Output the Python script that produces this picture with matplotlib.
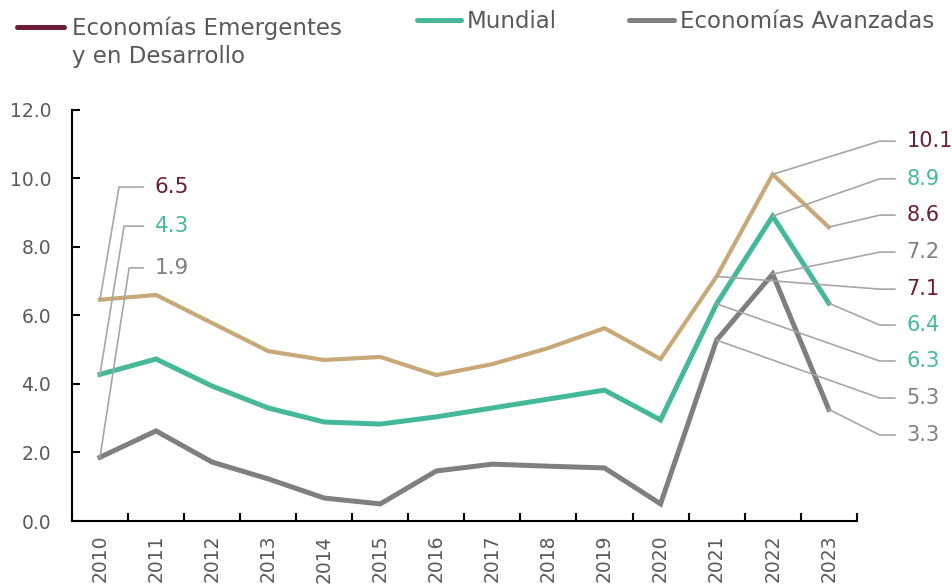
import numpy as np
import matplotlib.pyplot as plt
from matplotlib.lines import Line2D

plt.rcParams['font.family'] = ['DejaVu Sans']

years = ['2010', '2011', '2012', '2013', '2014', '2015', '2016',
         '2017', '2018', '2019', '2020', '2021', '2022', '2023']

emergentes = [6.46, 6.60, 5.78, 4.96, 4.70, 4.79, 4.26,
              4.58, 5.05, 5.63, 4.73, 7.14, 10.12, 8.58]
mundial = [4.28, 4.73, 3.94, 3.30, 2.89, 2.83, 3.04,
           3.30, 3.56, 3.82, 2.95, 6.34, 8.90, 6.36]
avanzadas = [1.86, 2.63, 1.72, 1.23, 0.67, 0.50, 1.46,
             1.66, 1.60, 1.55, 0.50, 5.28, 7.21, 3.26]

c_marron = '#6B1E36'
c_dorado = '#C9A877'
c_verde = '#45B89A'
c_gris = '#7F7F7F'
c_texto = '#595959'
c_guia = '#A6A6A6'

fig = plt.figure(figsize=(9.53, 5.85), dpi=100)
ax = fig.add_axes([0.0755, 0.1094, 0.8235, 0.7026])

x = np.arange(len(years))
ax.plot(x, emergentes, color=c_dorado, lw=3.0, solid_joinstyle='miter', zorder=3)
ax.plot(x, mundial, color=c_verde, lw=3.6, solid_joinstyle='miter', zorder=3)
ax.plot(x, avanzadas, color=c_gris, lw=3.6, solid_joinstyle='miter', zorder=3)

ax.set_xlim(-0.5, len(years) - 0.5)
ax.set_ylim(0, 12)
ax.set_yticks(np.arange(0, 12.1, 2))
ax.set_yticklabels([f'{v:.1f}' for v in np.arange(0, 12.1, 2)])
ax.set_xticks(x)
ax.set_xticklabels(years, rotation=90)
ax.set_xticks(np.arange(-0.5, len(years), 1), minor=True)
ax.tick_params(axis='x', which='major', length=0, pad=10, labelsize=13.5, labelcolor=c_texto)
ax.tick_params(axis='x', which='minor', direction='in', length=6, width=1.5)
ax.tick_params(axis='y', direction='in', length=6, width=1.5, pad=15,
               labelsize=13.5, labelcolor=c_texto)
for s in ['top', 'right']:
    ax.spines[s].set_visible(False)
for s in ['left', 'bottom']:
    ax.spines[s].set_linewidth(1.5)

# etiquetas de la izquierda (2010)
izq = [(emergentes[0], c_marron, 9.75, 0.34),
       (mundial[0], c_verde, 8.61, 0.43),
       (avanzadas[0], c_gris, 7.39, 0.52)]
for val, col, ylab, xcodo in izq:
    ax.plot([0, xcodo, 0.77], [val, ylab, ylab], color=c_guia, lw=1.2,
            zorder=4, clip_on=False)
    ax.text(0.98, ylab, f'{val:.1f}', color=col, fontsize=15.5,
            va='center', ha='left')

# etiquetas de la derecha
der = [(12, emergentes[12], c_marron, 11.09),
       (12, mundial[12], c_verde, 9.99),
       (13, emergentes[13], c_marron, 8.93),
       (12, avanzadas[12], c_gris, 7.85),
       (11, emergentes[11], c_marron, 6.77),
       (13, mundial[13], c_verde, 5.72),
       (11, mundial[11], c_verde, 4.67),
       (11, avanzadas[11], c_gris, 3.59),
       (13, avanzadas[13], c_gris, 2.51)]
for xi, val, col, ylab in der:
    ax.plot([xi, 13.91, 14.18], [val, ylab, ylab], color=c_guia, lw=1.2,
            zorder=4, clip_on=False)
    ax.text(14.39, ylab, f'{val:.1f}', color=col, fontsize=15,
            va='center', ha='left', clip_on=False)

# leyenda
H = 585.0
W = 953.0
def lin(x0, x1, y, col):
    fig.add_artist(Line2D([x0 / W, x1 / W], [1 - y / H, 1 - y / H],
                          color=col, lw=3.6, solid_capstyle='round'))

lin(17, 64, 27, c_marron)
fig.text(72 / W, 1 - 28 / H, 'Economías Emergentes', color=c_texto,
         fontsize=16.5, va='center', ha='left')
fig.text(72 / W, 1 - 57 / H, 'y en Desarrollo', color=c_texto,
         fontsize=16.5, va='center', ha='left')
lin(417, 461, 20, c_verde)
fig.text(467 / W, 1 - 21 / H, 'Mundial', color=c_texto,
         fontsize=16.5, va='center', ha='left')
lin(629, 674, 20, c_gris)
fig.text(680 / W, 1 - 21 / H, 'Economías Avanzadas', color=c_texto,
         fontsize=16.5, va='center', ha='left')

fig.savefig('out.png', dpi=100)
